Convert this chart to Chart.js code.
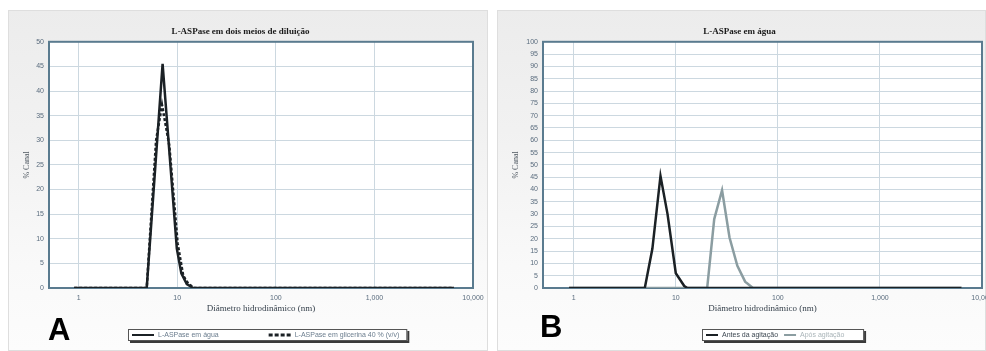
<!DOCTYPE html>
<html>
<head>
<meta charset="utf-8">
<script src="https://cdn.jsdelivr.net/npm/chart.js@4/dist/chart.umd.min.js"></script>
<style>
  html, body { margin: 0; padding: 0; background: #fff; width: 986px; height: 351px; overflow: hidden; }
  .panel { position: absolute; top: 10px; height: 341px;
           background: linear-gradient(#ececec, #f1f1f1 35%, #f9f9f9 75%, #fcfcfc);
           box-shadow: inset 0 0 0 1px #dedede; }
  #panelA { left: 8px; width: 480px; }
  #panelB { left: 497px; width: 489px; }
  canvas { position: absolute; left: 0; top: 0; }
  .tag { position: absolute; font: bold 31px "Liberation Sans", Arial, sans-serif; color: #000; line-height: 1; }
</style>
</head>
<body>
<div class="panel" id="panelA"><canvas id="chartA" width="480" height="341"></canvas></div>
<div class="panel" id="panelB"><canvas id="chartB" width="489" height="341"></canvas></div>
<div class="tag" style="left:48px;top:314px">A</div>
<div class="tag" style="left:540px;top:311px">B</div>

<script>
// ---- Hydrodynamic diameter (nm) vs. % per channel ----

// Panel A: enzyme diluted in water and in 40 % glycerol
const diamAgua = [0.9, 4.9, 7.1, 9.9, 11.0, 12.5, 14.5, 6400];
const pctAgua  = [0,   0,   45.5, 8,  3,    0.8,  0,    0];
const diamGlic = [0.9, 4.9, 6.1, 7.0, 8.3, 10.1, 11.5, 13.0, 15.0, 6400];
const pctGlic  = [0,   0,   30,  37.2, 29, 9,    2.5,  0.8,  0,    0];

// Panel B: enzyme in water, before and after agitation
const diamAntes = [0.9, 4.97, 5.9, 7.08, 8.3, 10.0, 12.1, 13.0, 6300];
const pctAntes  = [0,   0,    16,  45.5, 30,  6,    0.8,  0,    0];
const diamApos  = [0.9, 20.3, 23.8, 28.4, 33.6, 40.1, 47.8, 57, 6300];
const pctApos   = [0,   0,    28,   39.7, 20.5, 9,    2.6,  0,  0];

// Axis ticks
const xTickValues = [1, 10, 100, 1000, 10000];
const xTickLabels = ['1', '10', '100', '1,000', '10,000'];

const titleA = 'L-ASPase em dois meios de diluição';
const titleB = 'L-ASPase em água';
const xTitle = 'Diâmetro hidrodinâmico (nm)';
const yTitle = '% Canal';
const labelsA = ['L-ASPase em água', 'L-ASPase em glicerina 40 % (v/v)'];
const labelsB = ['Antes da agitação', 'Após agitação'];

const toPoints = (xs, ys) => xs.map((x, i) => ({ x, y: ys[i] }));

// White plot background and framed plot border
const plotFrame = {
  id: 'plotFrame',
  beforeDraw(chart) {
    const { ctx, chartArea: a } = chart;
    ctx.save();
    ctx.fillStyle = '#ffffff';
    ctx.fillRect(a.left, a.top, a.right - a.left, a.bottom - a.top);
    ctx.restore();
  },
  beforeDatasetsDraw(chart) {
    const { ctx, chartArea: a } = chart;
    ctx.save();
    ctx.strokeStyle = '#5a7b8f';
    ctx.lineWidth = 2;
    ctx.strokeRect(a.left, a.top, a.right - a.left, a.bottom - a.top);
    ctx.restore();
  }
};

// Boxed legend below the axis title, with equal-width columns
const boxedLegend = {
  id: 'boxedLegend',
  afterDraw(chart, args, opts) {
    const ctx = chart.ctx;
    const ds = chart.data.datasets;
    ctx.save();
    ctx.font = '7px "Liberation Sans", Arial, sans-serif';
    const textW = Math.max(...ds.map(d => ctx.measureText(d.label).width));
    const colW = opts.sample + 4 + textW + 6;
    const boxW = colW * ds.length + 6;
    const boxH = 12;
    const x0 = Math.round(opts.centerX - boxW / 2);
    const y0 = opts.top;
    // shadow
    ctx.fillStyle = '#3a3a3a';
    ctx.fillRect(x0 + 2, y0 + 2, boxW, boxH);
    ctx.fillStyle = '#ffffff';
    ctx.fillRect(x0, y0, boxW, boxH);
    ctx.strokeStyle = '#555';
    ctx.lineWidth = 1;
    ctx.strokeRect(x0 + 0.5, y0 + 0.5, boxW - 1, boxH - 1);
    ds.forEach((d, i) => {
      const cx = x0 + 4 + i * colW;
      const cy = y0 + boxH / 2;
      ctx.strokeStyle = d.borderColor;
      ctx.lineWidth = d.borderDash ? 3 : 2;
      ctx.setLineDash(d.borderDash ? [4, 2] : []);
      ctx.beginPath();
      ctx.moveTo(cx, cy);
      ctx.lineTo(cx + opts.sample, cy);
      ctx.stroke();
      ctx.setLineDash([]);
      ctx.fillStyle = opts.textColors[i];
      ctx.textBaseline = 'middle';
      ctx.fillText(d.label, cx + opts.sample + 4, cy + 0.5);
    });
    ctx.restore();
  }
};

function makeChart(id, cfg) {
  return new Chart(document.getElementById(id), {
    type: 'line',
    data: { datasets: cfg.datasets },
    options: {
      responsive: false,
      animation: false,
      devicePixelRatio: 1,
      layout: { padding: { left: 0, right: cfg.padRight, top: 0, bottom: 33 } },
      elements: { point: { radius: 0 }, line: { tension: 0 } },
      plugins: {
        legend: { display: false },
        tooltip: { enabled: false },
        title: {
          display: true, text: cfg.title, color: '#1a1a1a',
          font: { family: '"Liberation Serif", "Times New Roman", serif', size: 9, weight: 'bold' },
          padding: { top: 16, bottom: 5 }
        },
        boxedLegend: cfg.legend
      },
      scales: {
        x: {
          type: 'logarithmic', min: 0.5, max: 10000,
          afterBuildTicks: s => { s.ticks = xTickValues.map(v => ({ value: v })); },
          afterFit: s => { s.height = 30; s.paddingLeft = 0; s.paddingRight = 0; },
          ticks: {
            autoSkip: false, maxRotation: 0, padding: 6, color: '#5a6c7e',
            font: { family: '"Liberation Sans", Arial, sans-serif', size: 7 },
            callback: v => xTickLabels[xTickValues.indexOf(v)] ?? ''
          },
          grid: { color: '#ccd8e0', lineWidth: 1, drawTicks: false },
          border: { display: false },
          title: {
            display: true, text: xTitle, color: '#36414c',
            font: { family: '"Liberation Serif", "Times New Roman", serif', size: 9 },
            padding: { top: 0, bottom: 4 }
          }
        },
        y: {
          min: 0, max: cfg.yMax,
          afterFit: s => { s.width = cfg.yWidth; },
          ticks: {
            stepSize: 5, padding: 5, color: '#5a6c7e',
            font: { family: '"Liberation Sans", Arial, sans-serif', size: 7 }
          },
          grid: { color: '#ccd8e0', lineWidth: 1, drawTicks: false },
          border: { display: false },
          title: {
            display: true, text: yTitle, color: '#4f5861',
            font: { family: '"Liberation Serif", "Times New Roman", serif', size: 8 },
            padding: { top: 14, bottom: 0 }
          }
        }
      }
    },
    plugins: [plotFrame, boxedLegend]
  });
}

makeChart('chartA', {
  title: titleA, yMax: 50, yWidth: 41, padRight: 15,
  legend: { centerX: 260, top: 319, sample: 22, textColors: ['#6b7d8e', '#6b7d8e'] },
  datasets: [
    { label: labelsA[0], data: toPoints(diamAgua, pctAgua), borderColor: '#1b2125', borderWidth: 2.5 },
    { label: labelsA[1], data: toPoints(diamGlic, pctGlic), borderColor: '#1b2125', borderWidth: 2.5, borderDash: [3, 2] }
  ]
});

makeChart('chartB', {
  title: titleB, yMax: 100, yWidth: 46, padRight: 4,
  legend: { centerX: 286, top: 319, sample: 12, textColors: ['#3d4852', '#aab5b9'] },
  datasets: [
    { label: labelsB[0], data: toPoints(diamAntes, pctAntes), borderColor: '#1b2125', borderWidth: 2.5 },
    { label: labelsB[1], data: toPoints(diamApos, pctApos), borderColor: '#8b9da1', borderWidth: 2.5 }
  ]
});
</script>
</body>
</html>
